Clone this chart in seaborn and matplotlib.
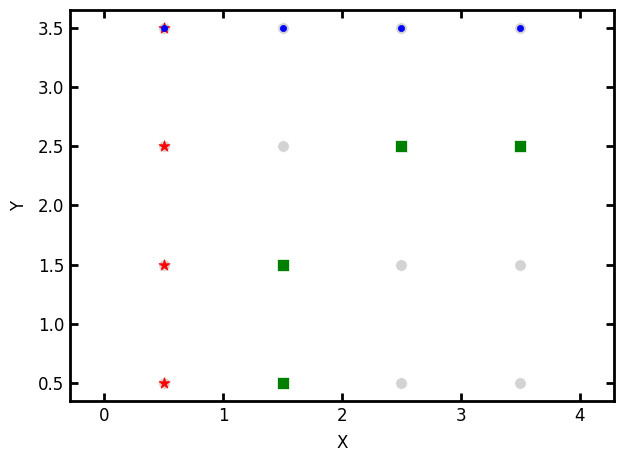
import matplotlib
matplotlib.use("Agg")
import matplotlib.pyplot as plt
import seaborn as sns
import pandas as pd

grid_x = [0.5, 1.5, 2.5, 3.5, 0.5, 1.5, 2.5, 3.5, 0.5, 1.5, 2.5, 3.5, 0.5, 1.5, 2.5, 3.5]
grid_y = [0.5, 0.5, 0.5, 0.5, 1.5, 1.5, 1.5, 1.5, 2.5, 2.5, 2.5, 2.5, 3.5, 3.5, 3.5, 3.5]
star_x = [0.5, 0.5, 0.5, 0.5]
star_y = [0.5, 1.5, 2.5, 3.5]
square_x = [1.5, 1.5, 2.5, 3.5]
square_y = [0.5, 1.5, 2.5, 2.5]
dot_x = [0.5, 1.5, 2.5, 3.5]
dot_y = [3.5, 3.5, 3.5, 3.5]

sns.set_style("white")
plt.rcParams['font.family'] = ['DejaVu Sans']
plt.rcParams['text.color'] = 'black'
plt.rcParams['axes.labelcolor'] = 'black'
plt.rcParams['xtick.color'] = 'black'
plt.rcParams['ytick.color'] = 'black'

fig = plt.figure(figsize=(6.23, 4.63), dpi=100)
ax = fig.add_axes([70/623, 1-401/463, (614-70)/623, (401-10)/463])

sns.scatterplot(x=grid_x, y=grid_y, color="lightgray", s=70, marker="o", edgecolor="white", linewidth=0.5, ax=ax)
sns.scatterplot(x=star_x, y=star_y, color="red", s=70, marker="*", edgecolor="red", linewidth=0.5, ax=ax)
sns.scatterplot(x=square_x, y=square_y, color="green", s=65, marker="s", edgecolor="white", linewidth=0.5, ax=ax)
sns.scatterplot(x=dot_x, y=dot_y, color="blue", s=20, marker="o", edgecolor="blue", linewidth=0.5, ax=ax)

ax.set_xlim(-0.286, 4.286)
ax.set_ylim(0.35, 3.65)
ax.set_xticks([0, 1, 2, 3, 4])
ax.set_yticks([0.5, 1.0, 1.5, 2.0, 2.5, 3.0, 3.5])
ax.set_yticklabels(["0.5", "1.0", "1.5", "2.0", "2.5", "3.0", "3.5"])
ax.set_xlabel("X", fontsize=12, labelpad=7)
ax.set_ylabel("Y", fontsize=12, labelpad=7)
ax.tick_params(direction="in", length=6, width=2, labelsize=12, pad=4,
               top=True, right=True, bottom=True, left=True)
for sp in ax.spines.values():
    sp.set_linewidth(2)
    sp.set_color("black")

fig.savefig("out.png", dpi=100)
